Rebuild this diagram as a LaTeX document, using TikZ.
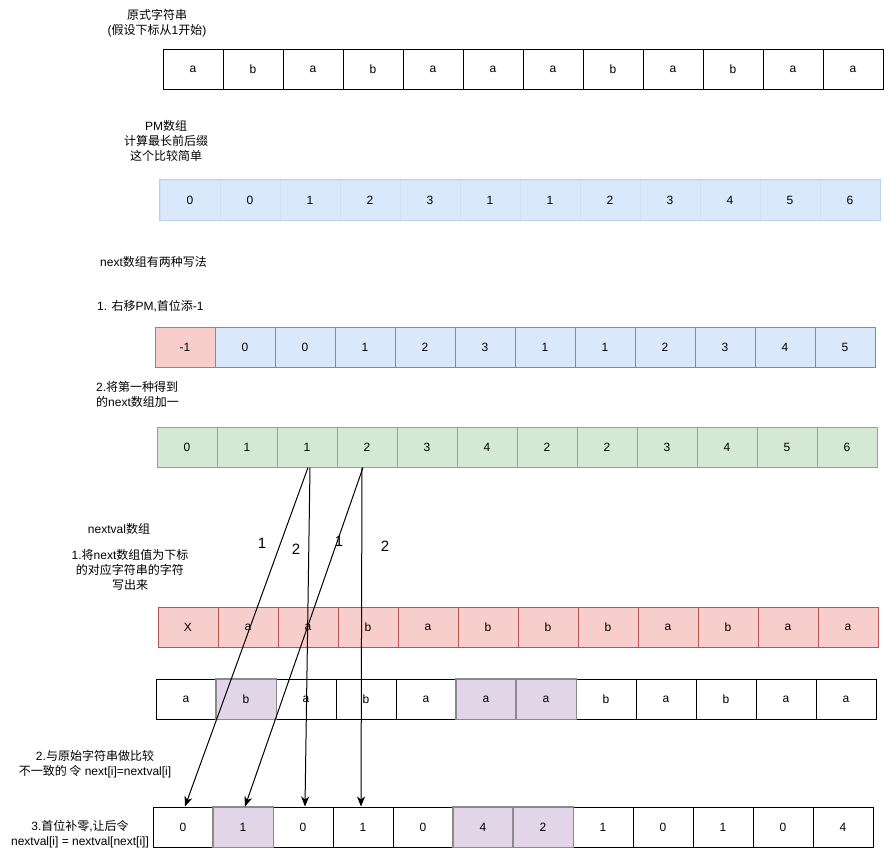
\documentclass[tikz,border=0pt]{standalone}
\usepackage{fontspec}
\setmainfont{Liberation Sans}
\newfontfamily\cjk{Noto Sans CJK SC}
\newcommand\zh[1]{{\cjk #1}}
\usetikzlibrary{arrows.meta}
\definecolor{bluefill}{HTML}{DAE8FC}
\definecolor{bluelight}{HTML}{D2E0F5}
\definecolor{blueedge}{HTML}{BCD0EE}
\definecolor{redfill}{HTML}{F8CECC}
\definecolor{rededge}{HTML}{B85450}
\definecolor{greenfill}{HTML}{D5E8D4}
\definecolor{greenedge}{HTML}{82B366}
\definecolor{purplefill}{HTML}{E1D5E7}
\definecolor{grayedge}{HTML}{8A8A8A}
\tikzset{
  cell/.style={draw, line width=1pt, minimum width=60pt, minimum height=40pt, inner sep=0pt,
    font=\fontsize{12}{14}\selectfont},
  wc/.style={fill=white, draw=black},
  bc/.style={fill=bluefill, draw=bluelight},
  bgc/.style={fill=bluefill, draw=grayedge},
  rgc/.style={fill=redfill, draw=grayedge},
  gc/.style={fill=greenfill, draw=greenedge},
  rc/.style={fill=redfill, draw=rededge},
  pc/.style={fill=purplefill, draw=grayedge},
  lbl/.style={inner sep=0pt, font=\fontsize{12}{15}\selectfont},
  numlbl/.style={inner sep=0pt, font=\fontsize{15}{17}\selectfont},
  arr/.style={draw=black, line width=1pt, -{Stealth[length=10pt,width=8pt,inset=3pt]}}
}
\begin{document}
\begin{tikzpicture}[x=1pt,y=-1pt]
\useasboundingbox (0,0) rectangle (884,852);
\fill[white] (0,0) rectangle (884,852);

% row 1: original string
\foreach \v [count=\i from 0] in {a,b,a,b,a,a,a,b,a,b,a,a}
  \node[cell,wc] (r1c\i) at ({193+60*\i},69) {\v};

% row 2: PM
\foreach \v [count=\i from 0] in {0,0,1,2,3,1,1,2,3,4,5,6}
  \node[cell,bc] (r2c\i) at ({190+60*\i},200) {\v};
\draw[blueedge, line width=1pt] (r2c0.north west) rectangle (r2c11.south east);

% row 3: next (shifted)
\foreach \v/\s [count=\i from 0] in {-1/rgc,0/bgc,0/bgc,1/bgc,2/bgc,3/bgc,1/bgc,1/bgc,2/bgc,3/bgc,4/bgc,5/bgc}
  \node[cell,\s] (r3c\i) at ({185+60*\i},347) {\v};

% row 4: next + 1
\foreach \v [count=\i from 0] in {0,1,1,2,3,4,2,2,3,4,5,6}
  \node[cell,gc] (r4c\i) at ({187+60*\i},447) {\v};

% row 5: chars at next positions
\foreach \v [count=\i from 0] in {X,a,a,b,a,b,b,b,a,b,a,a}
  \node[cell,rc] (r5c\i) at ({188+60*\i},627) {\v};

% row 6: original string compared
\foreach \v/\s [count=\i from 0] in {a/wc,b/pc,a/wc,b/wc,a/wc,a/pc,a/pc,b/wc,a/wc,b/wc,a/wc,a/wc}
  \node[cell,\s] (r6c\i) at ({186+60*\i},699) {\v};
\foreach \i in {1,5,6}
  \draw[grayedge, line width=1pt] (r6c\i.north west) rectangle (r6c\i.south east);

% row 7: nextval
\foreach \v/\s [count=\i from 0] in {0/wc,1/pc,0/wc,1/wc,0/wc,4/pc,2/pc,1/wc,0/wc,1/wc,0/wc,4/wc}
  \node[cell,\s] (r7c\i) at ({183+60*\i},827) {\v};
\foreach \i in {1,5,6}
  \draw[grayedge, line width=1pt] (r7c\i.north west) rectangle (r7c\i.south east);

% arrows
\draw[arr] ([xshift=1pt]r4c2.south) -- ([xshift=2pt]r7c0.north);
\draw[arr] ([xshift=3pt]r4c2.south) -- ([xshift=2pt]r7c2.north);
\draw[arr] ([xshift=-4pt]r4c3.south) -- ([xshift=2pt]r7c1.north);
\draw[arr] ([xshift=-5pt]r4c3.south) -- ([xshift=-2pt]r7c3.north);

% number labels
\node[numlbl] (n1) at (262,543) {1};
\node[numlbl] (n2) at (296,549) {2};
\node[numlbl] (n3) at (339,541) {1};
\node[numlbl] (n4) at (385,546) {2};

% text labels
\node[lbl, align=center] (t1) at (157,23.5) {\zh{原式字符串}\\(\zh{假设下标从}1\zh{开始})};
\node[lbl, align=center] (t2) at (166,141) {PM\zh{数组}\\\zh{计算最长前后缀}\\\zh{这个比较简单}};
\node[lbl, anchor=west] (t3) at (100,262) {next\zh{数组有两种写法}};
\node[lbl, anchor=west] (t4) at (97,306) {1. \zh{右移}PM,\zh{首位添}-1};
\node[lbl, anchor=west, align=left] (t5) at (96,394) {2.\zh{将第一种得到}\\\zh{的}next\zh{数组加一}};
\node[lbl] (t6) at (119,529) {nextval\zh{数组}};
\node[lbl, align=center] (t7) at (130,570) {1.\zh{将}next\zh{数组值为下标}\\\zh{的对应字符串的字符}\\\zh{写出来}};
\node[lbl, align=center] (t8) at (95,764.5) {2.\zh{与原始字符串做比较}\\\zh{不一致的 令} next[i]=nextval[i]};
\node[lbl, align=center] (t9) at (80,834) {3.\zh{首位补零},\zh{让后令}\\nextval[i] = nextval[next[i]]};
\end{tikzpicture}
\end{document}
